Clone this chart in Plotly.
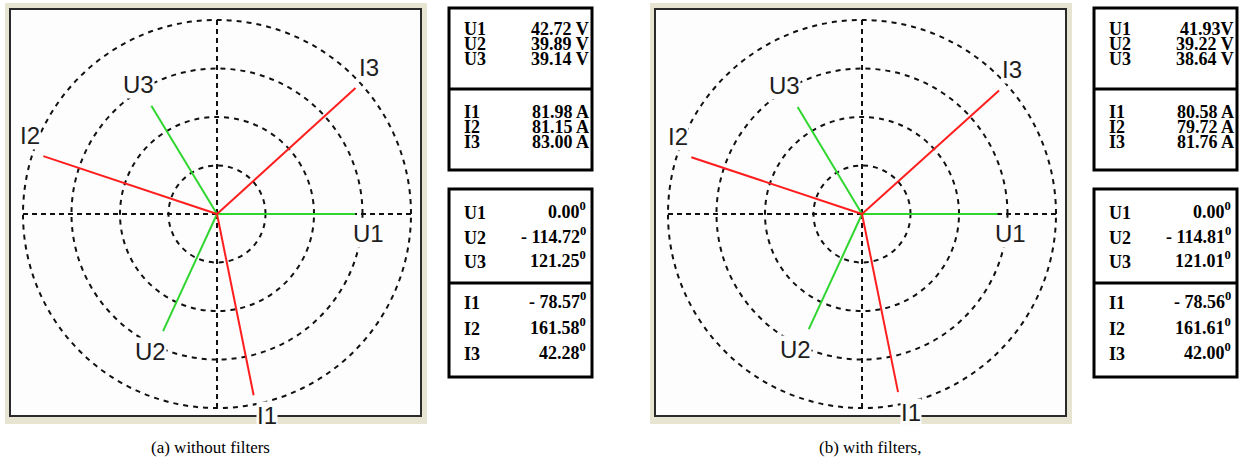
import numpy as np
import plotly.graph_objects as go

# ---- measured phasors -------------------------------------------------
PHASE_U = ["U1", "U2", "U3"]
PHASE_I = ["I1", "I2", "I3"]

# (a) without filters
A_U_MAG = [42.72, 39.89, 39.14]      # V
A_I_MAG = [81.98, 81.15, 83.00]      # A
A_U_ANG = [0.00, -114.72, 121.25]    # deg
A_I_ANG = [-78.57, 161.58, 42.28]    # deg
A_U_SEP = [" ", " ", " "]

# (b) with filters
B_U_MAG = [41.93, 39.22, 38.64]
B_I_MAG = [80.58, 79.72, 81.76]
B_U_ANG = [0.00, -114.81, 121.01]
B_I_ANG = [-78.56, 161.61, 42.00]
B_U_SEP = ["", " ", " "]

CAPTIONS = ["(a) without filters", "(b) with filters,"]

# display scale: one grid ring per division
V_PER_DIV = 15.0
A_PER_DIV = 21.5
N_RINGS = 4
R_MAX = 4.03               # a little beyond the outer ring so it is drawn

W, H = 1243, 470
PANEL_SHIFT = 645          # horizontal offset of panel (b)
CX, CY = 217, 214          # polar centre of panel (a), px
R_RING = 194               # outer ring radius, px
R = R_RING * R_MAX / N_RINGS

GREEN = "#2fd62f"
RED = "#ff1e1e"
GRID = "#111111"
LABEL_FONT = dict(family="Liberation Sans Narrow, Liberation Sans", size=24,
                  color="#1e1e1e")


def px(x):
    return x / W


def py(y):
    return 1 - y / H


fig = go.Figure()
shapes = []
annotations = []


def fmt_ang(v):
    s = f"- {abs(v):.2f}" if v < 0 else f"{v:.2f}"
    return s + "<sup>0</sup>"


panels = [
    (A_U_MAG, A_I_MAG, A_U_ANG, A_I_ANG, A_U_SEP),
    (B_U_MAG, B_I_MAG, B_U_ANG, B_I_ANG, B_U_SEP),
]

for k, (u_mag, i_mag, u_ang, i_ang, u_sep) in enumerate(panels):
    dx = k * PANEL_SHIFT
    cx = CX + dx
    pname = "polar" if k == 0 else f"polar{k + 1}"

    # window frame behind the phasor plot
    shapes.append(dict(type="rect", xref="paper", yref="paper",
                       x0=px(5 + dx), x1=px(427 + dx), y0=py(424), y1=py(3),
                       fillcolor="#e8e4d2", line=dict(width=0), layer="below"))
    shapes.append(dict(type="rect", xref="paper", yref="paper",
                       x0=px(10 + dx), x1=px(421 + dx), y0=py(416), y1=py(9),
                       fillcolor="#fdfdfd", line=dict(color="#2a2a2a", width=2),
                       layer="below"))

    fig.update_layout(**{pname: dict(
        domain=dict(x=[px(cx - R), px(cx + R)], y=[py(CY + R), py(CY - R)]),
        bgcolor="rgba(0,0,0,0)",
        radialaxis=dict(range=[0, R_MAX], tickvals=list(range(1, N_RINGS + 1)),
                        showticklabels=False, showline=False, ticks="",
                        gridcolor=GRID, griddash="5px,5px", gridwidth=1.7),
        angularaxis=dict(tickvals=[0, 90, 180, 270], showticklabels=False,
                         showline=False, ticks="", direction="counterclockwise",
                         rotation=0, gridcolor=GRID, griddash="5px,4px",
                         gridwidth=1.7),
    )})

    vecs = ([(n, m / V_PER_DIV, a, GREEN) for n, m, a in zip(PHASE_U, u_mag, u_ang)] +
            [(n, m / A_PER_DIV, a, RED) for n, m, a in zip(PHASE_I, i_mag, i_ang)])
    for name, r, ang, col in vecs:
        fig.add_trace(go.Scatterpolar(r=[0, r], theta=[ang, ang], mode="lines",
                                      line=dict(color=col, width=2),
                                      subplot=pname, showlegend=False,
                                      hoverinfo="skip"))
        # phase label just beyond the tip
        rp = r / N_RINGS * R_RING
        c, s = np.cos(np.radians(ang)), np.sin(np.radians(ang))
        lx = cx + rp * c + 13 * np.sign(c)
        ly = CY - rp * s + (-21 if s > 0.05 else 20)
        annotations.append(dict(x=px(lx), y=py(ly), xref="paper", yref="paper",
                                text=name, showarrow=False, xanchor="center",
                                yanchor="middle", bgcolor="#fdfdfd", borderpad=0,
                                font=LABEL_FONT))

    # magnitude table
    tx0, tx1 = 449 + dx, 592 + dx
    shapes.append(dict(type="rect", xref="paper", yref="paper",
                       x0=px(tx0), x1=px(tx1), y0=py(170), y1=py(8),
                       line=dict(color="black", width=3)))
    shapes.append(dict(type="line", xref="paper", yref="paper",
                       x0=px(tx0), x1=px(tx1), y0=py(89), y1=py(89),
                       line=dict(color="black", width=3)))
    # angle table
    shapes.append(dict(type="rect", xref="paper", yref="paper",
                       x0=px(tx0), x1=px(tx1), y0=py(377), y1=py(189),
                       line=dict(color="black", width=3)))
    shapes.append(dict(type="line", xref="paper", yref="paper",
                       x0=px(tx0), x1=px(tx1), y0=py(283), y1=py(283),
                       line=dict(color="black", width=3)))

    tfont = dict(family="Liberation Serif", size=18, color="black")
    rows_mag = ([(n, f"{m:.2f}{sp}V", y) for n, m, sp, y in
                 zip(PHASE_U, u_mag, u_sep, [29, 44, 59])] +
                [(n, f"{m:.2f} A", y) for n, m, y in
                 zip(PHASE_I, i_mag, [112, 127, 142])])
    rows_ang = ([(n, fmt_ang(a), y) for n, a, y in
                 zip(PHASE_U, u_ang, [213, 238, 262])] +
                [(n, fmt_ang(a), y) for n, a, y in
                 zip(PHASE_I, i_ang, [303, 329, 354])])
    for name, val, y in rows_mag:
        annotations.append(dict(x=px(tx0 + 13), y=py(y), xref="paper", yref="paper",
                                text=f"<b>{name}</b>", showarrow=False,
                                xanchor="left", yanchor="middle", font=tfont))
        annotations.append(dict(x=px(tx1 - 1), y=py(y), xref="paper", yref="paper",
                                text=f"<b>{val}</b>", showarrow=False,
                                xanchor="right", yanchor="middle", font=tfont))
    for name, val, y in rows_ang:
        annotations.append(dict(x=px(tx0 + 13), y=py(y), xref="paper", yref="paper",
                                text=f"<b>{name}</b>", showarrow=False,
                                xanchor="left", yanchor="middle", font=tfont))
        annotations.append(dict(x=px(tx1 - 4), y=py(y - 3), xref="paper", yref="paper",
                                text=f"<b>{val}</b>", showarrow=False,
                                xanchor="right", yanchor="middle", font=tfont))

    annotations.append(dict(x=px([210, 870][k]), y=py(447), xref="paper",
                            yref="paper", text=CAPTIONS[k], showarrow=False,
                            xanchor="center", yanchor="middle",
                            font=dict(family="Liberation Serif", size=17,
                                      color="black")))

fig.update_layout(width=W, height=H, margin=dict(l=0, r=0, t=0, b=0),
                  paper_bgcolor="white", plot_bgcolor="white",
                  shapes=shapes, annotations=annotations, showlegend=False)

fig.write_html("out.html")
